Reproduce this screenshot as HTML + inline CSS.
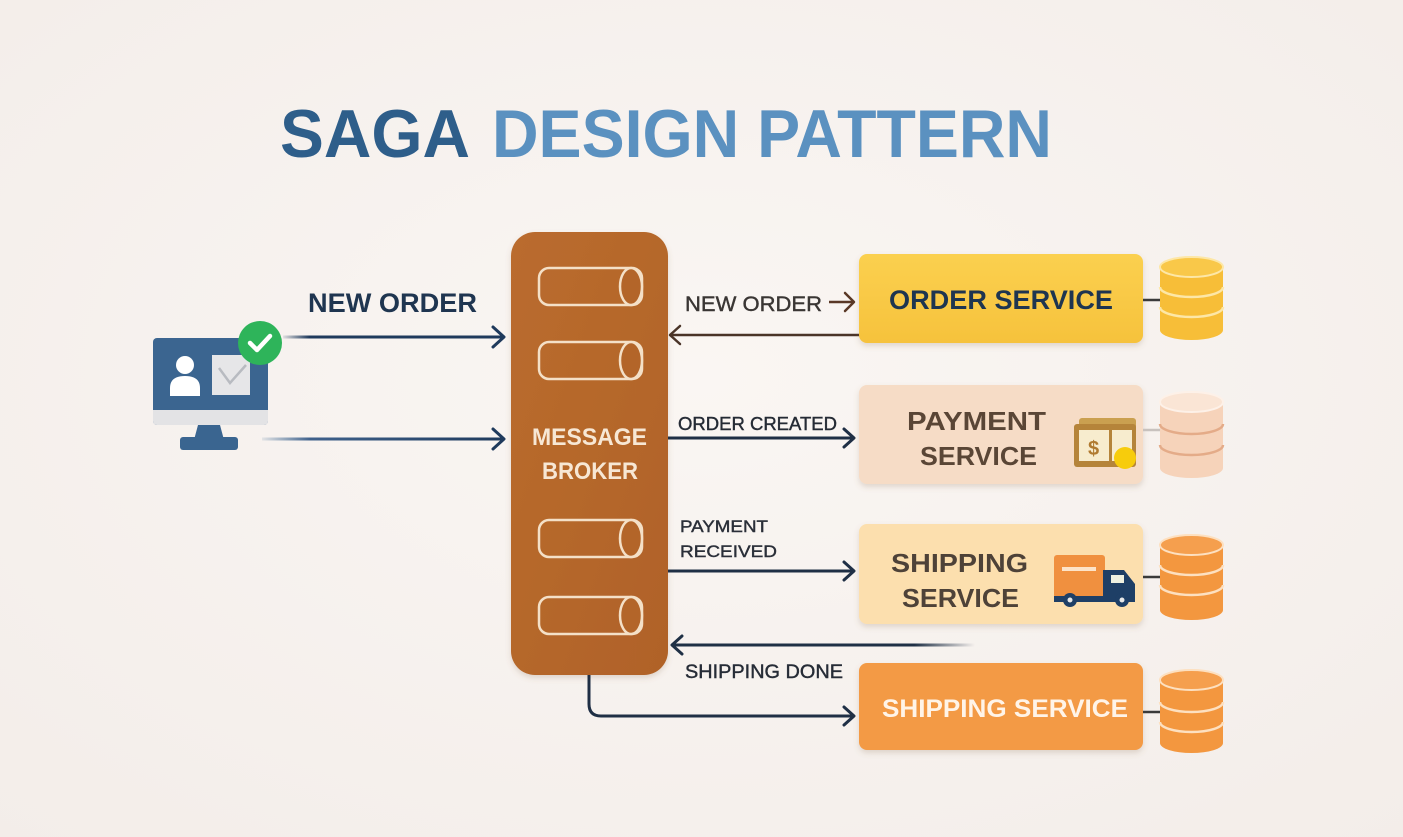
<!DOCTYPE html>
<html>
<head>
<meta charset="utf-8">
<style>
html,body{margin:0;padding:0;background:#f8f3f0;}
svg{display:block;}
text{font-family:"Liberation Sans",sans-serif;}
</style>
</head>
<body>
<svg width="1403" height="837" viewBox="0 0 1403 837" xmlns="http://www.w3.org/2000/svg">
<defs>
  <radialGradient id="bg" cx="50%" cy="45%" r="75%">
    <stop offset="0" stop-color="#faf6f3"/>
    <stop offset="1" stop-color="#f3ede9"/>
  </radialGradient>
  <linearGradient id="fadeL1" gradientUnits="userSpaceOnUse" x1="283" y1="0" x2="503" y2="0">
    <stop offset="0" stop-color="#1f3a5c" stop-opacity="0.1"/>
    <stop offset="0.12" stop-color="#1f3a5c" stop-opacity="1"/>
    <stop offset="1" stop-color="#1f3a5c"/>
  </linearGradient>
  <linearGradient id="fadeL2" gradientUnits="userSpaceOnUse" x1="262" y1="0" x2="503" y2="0">
    <stop offset="0" stop-color="#2a5a8a" stop-opacity="0.1"/>
    <stop offset="0.2" stop-color="#2a5080" stop-opacity="0.9"/>
    <stop offset="1" stop-color="#1f3a5c"/>
  </linearGradient>
  <linearGradient id="fadeR" gradientUnits="userSpaceOnUse" x1="672" y1="0" x2="975" y2="0">
    <stop offset="0" stop-color="#1f3045"/>
    <stop offset="0.8" stop-color="#1f3045" stop-opacity="1"/>
    <stop offset="1" stop-color="#1f3045" stop-opacity="0"/>
  </linearGradient>
  <linearGradient id="broker" x1="0" x2="1" y1="0" y2="1">
    <stop offset="0" stop-color="#ba6c2e"/>
    <stop offset="1" stop-color="#b06228"/>
  </linearGradient>
  <linearGradient id="orderG" x1="0" x2="0" y1="0" y2="1">
    <stop offset="0" stop-color="#fbd04f"/>
    <stop offset="1" stop-color="#f6c23c"/>
  </linearGradient>
  <filter id="sh" x="-10%" y="-10%" width="120%" height="130%">
    <feDropShadow dx="0" dy="3" stdDeviation="3" flood-color="#8a6a50" flood-opacity="0.22"/>
  </filter>
</defs>

<rect width="1403" height="837" fill="url(#bg)"/>

<!-- Title -->
<text x="280" y="157" font-size="68" font-weight="bold" fill="#2e5e8a" textLength="190" lengthAdjust="spacingAndGlyphs">SAGA</text>
<text x="492" y="157" font-size="68" font-weight="bold" fill="#5b91c0" textLength="560" lengthAdjust="spacingAndGlyphs">DESIGN PATTERN</text>

<!-- Monitor -->
<g>
  <rect x="153" y="338" width="115" height="87" rx="4" fill="#3b6590"/>
  <path d="M153 410 H268 V421 Q268 425 264 425 H157 Q153 425 153 421 Z" fill="#e3e3e5"/>
  <polygon points="198,425 220,425 224,440 194,440" fill="#3a6590"/>
  <rect x="180" y="437" width="58" height="13" rx="3" fill="#3a6590"/>
  <circle cx="185" cy="365" r="9" fill="#ffffff"/>
  <path d="M170 396 V388 Q170 376 185 376 Q200 376 200 388 V396 Z" fill="#ffffff"/>
  <rect x="212" y="355" width="38" height="40" fill="#e6e6e8"/>
  <polyline points="219,368 230,383 246,365" fill="none" stroke="#b8bbc1" stroke-width="2.5"/>
  <circle cx="260" cy="343" r="22" fill="#2eb45a"/>
  <polyline points="250,343 257,350 270,336" fill="none" stroke="#ffffff" stroke-width="4.5" stroke-linecap="round" stroke-linejoin="round"/>
</g>

<!-- Left arrows -->
<text x="308" y="312" font-size="27" font-weight="bold" fill="#1f3550" textLength="169" lengthAdjust="spacingAndGlyphs">NEW ORDER</text>
<rect x="283" y="335.5" width="220" height="3" fill="url(#fadeL1)"/>
<polyline points="493,327 504,337 493,347" fill="none" stroke="#1f3a5c" stroke-width="3" stroke-linecap="round" stroke-linejoin="round"/>
<rect x="262" y="437.5" width="241" height="3" fill="url(#fadeL2)"/>
<polyline points="493,429 504,439 493,449" fill="none" stroke="#1f3a5c" stroke-width="3" stroke-linecap="round" stroke-linejoin="round"/>

<!-- Message broker -->
<rect x="511" y="232" width="157" height="443" rx="24" fill="url(#broker)" filter="url(#sh)"/>
<g fill="none" stroke="#f4e0c7" stroke-width="2.5">
  <rect x="539" y="268" width="103" height="37" rx="10"/>
  <ellipse cx="631" cy="286.5" rx="11" ry="18.5" fill="#b36529"/>
  <rect x="539" y="342" width="103" height="37" rx="10"/>
  <ellipse cx="631" cy="360.5" rx="11" ry="18.5" fill="#b36529"/>
  <rect x="539" y="520" width="103" height="37" rx="10"/>
  <ellipse cx="631" cy="538.5" rx="11" ry="18.5" fill="#b36529"/>
  <rect x="539" y="597" width="103" height="37" rx="10"/>
  <ellipse cx="631" cy="615.5" rx="11" ry="18.5" fill="#b36529"/>
</g>
<text x="532" y="445" font-size="24" font-weight="bold" fill="#f7e7d4" textLength="115" lengthAdjust="spacingAndGlyphs">MESSAGE</text>
<text x="542" y="479" font-size="24" font-weight="bold" fill="#f7e7d4" textLength="96" lengthAdjust="spacingAndGlyphs">BROKER</text>

<!-- Right connectors -->
<text x="685" y="311" font-size="21" fill="#3a3634" stroke="#3a3634" stroke-width="0.4" textLength="137" lengthAdjust="spacingAndGlyphs">NEW ORDER</text>
<line x1="829" y1="302" x2="853" y2="302" stroke="#5a3826" stroke-width="2.5"/>
<polyline points="845,293 854,302 845,311" fill="none" stroke="#5a3826" stroke-width="2.5" stroke-linecap="round" stroke-linejoin="round"/>
<line x1="671" y1="335" x2="866" y2="335" stroke="#4a3428" stroke-width="2.5"/>
<polyline points="680,326 670,335 680,344" fill="none" stroke="#4a3428" stroke-width="2.5" stroke-linecap="round" stroke-linejoin="round"/>

<text x="678" y="430" font-size="18" fill="#252b35" stroke="#252b35" stroke-width="0.4" textLength="159" lengthAdjust="spacingAndGlyphs">ORDER CREATED</text>
<line x1="668" y1="438" x2="853" y2="438" stroke="#1f2f45" stroke-width="3"/>
<polyline points="844,429 854,438 844,447" fill="none" stroke="#1f2f45" stroke-width="3" stroke-linecap="round" stroke-linejoin="round"/>

<text x="680" y="532" font-size="17" fill="#2a2f38" stroke="#2a2f38" stroke-width="0.4" textLength="88" lengthAdjust="spacingAndGlyphs">PAYMENT</text>
<text x="680" y="557" font-size="17" fill="#2a2f38" stroke="#2a2f38" stroke-width="0.4" textLength="97" lengthAdjust="spacingAndGlyphs">RECEIVED</text>
<line x1="668" y1="571" x2="853" y2="571" stroke="#1f2f45" stroke-width="3"/>
<polyline points="844,562 854,571 844,580" fill="none" stroke="#1f2f45" stroke-width="3" stroke-linecap="round" stroke-linejoin="round"/>

<rect x="672" y="643.5" width="303" height="3" fill="url(#fadeR)"/>
<polyline points="682,636 672,645 682,654" fill="none" stroke="#1f3045" stroke-width="3" stroke-linecap="round" stroke-linejoin="round"/>
<text x="685" y="678" font-size="19" fill="#262c36" stroke="#262c36" stroke-width="0.4" textLength="158" lengthAdjust="spacingAndGlyphs">SHIPPING DONE</text>

<path d="M589 675 V704 Q589 716 601 716 H853" fill="none" stroke="#1f2f45" stroke-width="3"/>
<polyline points="844,707 854,716 844,725" fill="none" stroke="#1f2f45" stroke-width="3" stroke-linecap="round" stroke-linejoin="round"/>

<!-- Service boxes -->
<rect x="859" y="254" width="284" height="89" rx="8" fill="url(#orderG)" filter="url(#sh)"/>
<text x="889" y="309" font-size="27" font-weight="bold" fill="#1e3550" textLength="224" lengthAdjust="spacingAndGlyphs">ORDER SERVICE</text>

<rect x="859" y="385" width="284" height="99" rx="8" fill="#f6dcc6" filter="url(#sh)"/>
<text x="907" y="430" font-size="26" font-weight="bold" fill="#5a4636" textLength="139" lengthAdjust="spacingAndGlyphs">PAYMENT</text>
<text x="920" y="465" font-size="26" font-weight="bold" fill="#5a4636" textLength="117" lengthAdjust="spacingAndGlyphs">SERVICE</text>

<rect x="859" y="524" width="284" height="100" rx="8" fill="#fcdfae" filter="url(#sh)"/>
<text x="891" y="572" font-size="26" font-weight="bold" fill="#4e4238" textLength="137" lengthAdjust="spacingAndGlyphs">SHIPPING</text>
<text x="902" y="607" font-size="26" font-weight="bold" fill="#4e4238" textLength="117" lengthAdjust="spacingAndGlyphs">SERVICE</text>

<rect x="859" y="663" width="284" height="87" rx="8" fill="#f39a45" filter="url(#sh)"/>
<text x="882" y="717" font-size="25" font-weight="bold" fill="#fff4e8" textLength="246" lengthAdjust="spacingAndGlyphs">SHIPPING SERVICE</text>

<!-- Money icon -->
<rect x="1079" y="418" width="57" height="40" rx="3" fill="#caa050"/>
<rect x="1074" y="424" width="62" height="43" rx="3" fill="#b5843a"/>
<rect x="1079" y="430" width="30" height="31" fill="#f7ecce"/>
<rect x="1112" y="430" width="20" height="31" fill="#f7ecce"/>
<text x="1088" y="455" font-size="20" font-weight="bold" fill="#b07a30">$</text>
<circle cx="1125" cy="458" r="11" fill="#f7cc0c"/>

<!-- Truck icon -->
<rect x="1054" y="555" width="51" height="43" rx="3" fill="#f0903f"/>
<rect x="1062" y="567" width="34" height="4" fill="#fde3c8"/>
<path d="M1103 570 H1124 L1135 584 V602 H1103 Z" fill="#1e3f66"/>
<rect x="1111" y="575" width="13" height="8" fill="#eef0e0"/>
<rect x="1054" y="596" width="81" height="6" fill="#1e3f66"/>
<circle cx="1070" cy="600" r="7" fill="#1e3f66"/><circle cx="1070" cy="600" r="2.5" fill="#e8e8e8"/>
<circle cx="1122" cy="600" r="7" fill="#1e3f66"/><circle cx="1122" cy="600" r="2.5" fill="#e8e8e8"/>

<!-- DB connectors -->
<line x1="1143" y1="300" x2="1160" y2="300" stroke="#3a3a3a" stroke-width="2.5"/>
<line x1="1143" y1="430" x2="1160" y2="430" stroke="#c8c2be" stroke-width="2.5"/>
<line x1="1143" y1="577" x2="1160" y2="577" stroke="#3a3a3a" stroke-width="2.5"/>
<line x1="1143" y1="712" x2="1160" y2="712" stroke="#3a3a3a" stroke-width="2.5"/>

<!-- DB cylinders -->
<g>
  <path d="M1160 267 V330 A31.5 10 0 0 0 1223 330 V267 Z" fill="#f7be38"/>
  <ellipse cx="1191.5" cy="267" rx="31.5" ry="10" fill="#f9c849" stroke="#fde7a6" stroke-width="2"/>
  <path d="M1160 287 A31.5 10 0 0 0 1223 287" fill="none" stroke="#fde7a6" stroke-width="2.5"/>
  <path d="M1160 307 A31.5 10 0 0 0 1223 307" fill="none" stroke="#fde7a6" stroke-width="2.5"/>
</g>
<g>
  <path d="M1160 402 V468 A31.5 10 0 0 0 1223 468 V402 Z" fill="#f6d3ba"/>
  <ellipse cx="1191.5" cy="402" rx="31.5" ry="10" fill="#fae5d5" stroke="#fdf1e8" stroke-width="2"/>
  <path d="M1160 424 A31.5 10 0 0 0 1223 424" fill="none" stroke="#e4ab88" stroke-width="2.5"/>
  <path d="M1160 445 A31.5 10 0 0 0 1223 445" fill="none" stroke="#e4ab88" stroke-width="2.5"/>
</g>
<g>
  <path d="M1160 545 V610 A31.5 10 0 0 0 1223 610 V545 Z" fill="#f3973f"/>
  <ellipse cx="1191.5" cy="545" rx="31.5" ry="10" fill="#f59f4e" stroke="#fde0c0" stroke-width="2"/>
  <path d="M1160 565 A31.5 10 0 0 0 1223 565" fill="none" stroke="#fde0c0" stroke-width="2.5"/>
  <path d="M1160 585 A31.5 10 0 0 0 1223 585" fill="none" stroke="#fde0c0" stroke-width="2.5"/>
</g>
<g>
  <path d="M1160 680 V743 A31.5 10 0 0 0 1223 743 V680 Z" fill="#f3973f"/>
  <ellipse cx="1191.5" cy="680" rx="31.5" ry="10" fill="#f59f4e" stroke="#fde0c0" stroke-width="2"/>
  <path d="M1160 702 A31.5 10 0 0 0 1223 702" fill="none" stroke="#fde0c0" stroke-width="2.5"/>
  <path d="M1160 722 A31.5 10 0 0 0 1223 722" fill="none" stroke="#fde0c0" stroke-width="2.5"/>
</g>
</svg>
</body>
</html>
